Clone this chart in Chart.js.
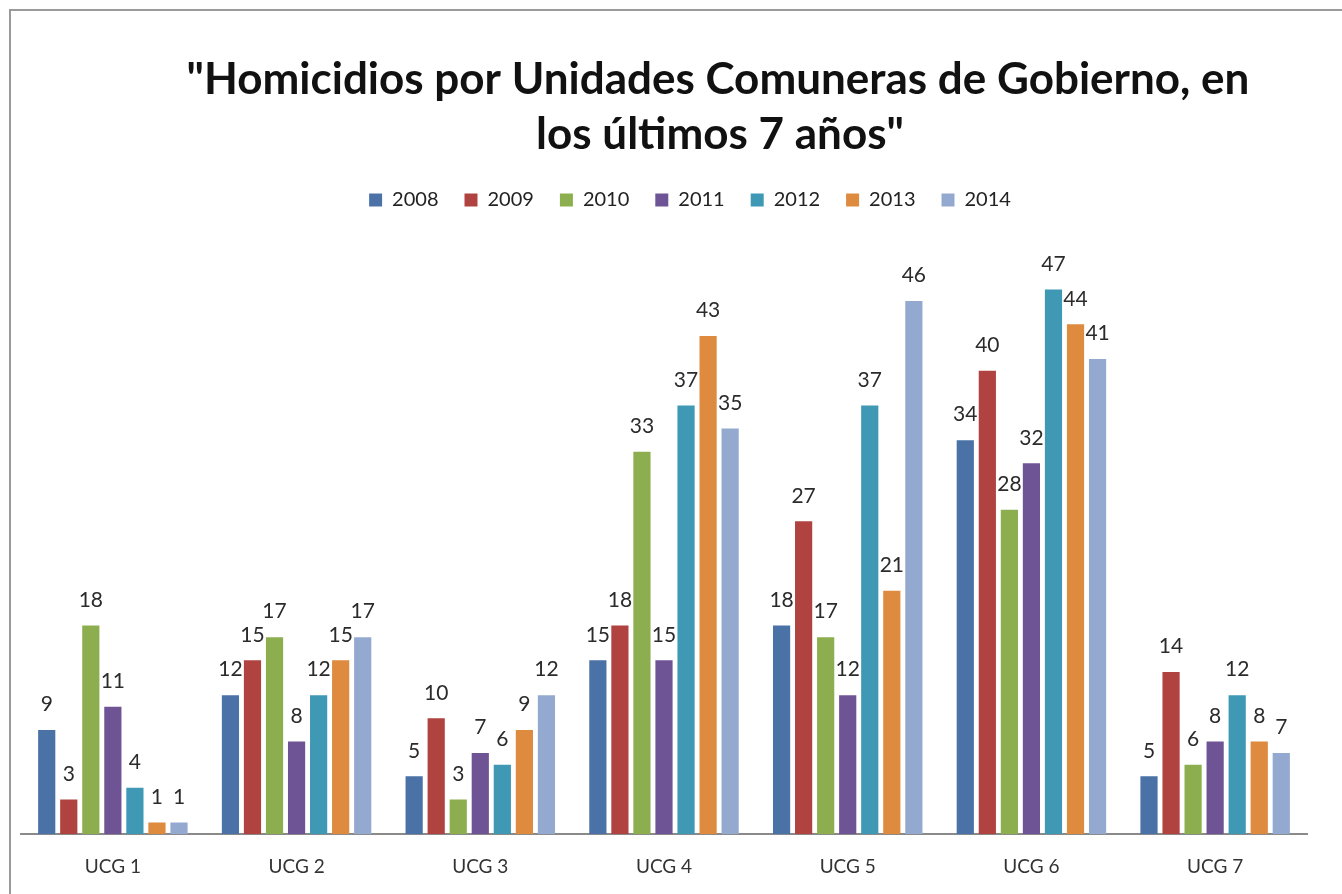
<!DOCTYPE html>
<html>
<head>
<meta charset="utf-8">
<script src="https://cdn.jsdelivr.net/npm/chart.js@4"></script>
<style>
  html, body { margin: 0; padding: 0; background: #fff; overflow: hidden; }
  #wrap { position: relative; width: 1342px; height: 894px; overflow: hidden; }
  #frame { position: absolute; left: 9px; top: 9px; width: 1400px; height: 950px; border-left: 2px solid #9a9a9a; border-top: 2px solid #9a9a9a; }
  canvas { position: absolute; left: 0; top: 0; }
</style>
</head>
<body>
<div id="wrap">
  <div id="frame"></div>
  <canvas id="chart" width="1342" height="894"></canvas>
</div>
<script>
// categories and series
var categories = ['UCG 1', 'UCG 2', 'UCG 3', 'UCG 4', 'UCG 5', 'UCG 6', 'UCG 7'];
var years = ['2008', '2009', '2010', '2011', '2012', '2013', '2014'];
var s2008 = [9, 12, 5, 15, 18, 34, 5];
var s2009 = [3, 15, 10, 18, 27, 40, 14];
var s2010 = [18, 17, 3, 33, 17, 28, 6];
var s2011 = [11, 8, 7, 15, 12, 32, 8];
var s2012 = [4, 12, 6, 37, 37, 47, 12];
var s2013 = [1, 15, 9, 43, 21, 44, 8];
var s2014 = [1, 17, 12, 35, 46, 41, 7];
var titleLines = ['"Homicidios por Unidades Comuneras de Gobierno, en', 'los últimos 7 años"'];

var colors = ['#4a72a6', '#b0433f', '#8dae4f', '#6e5495', '#3f98b4', '#de8a3f', '#93a9cf'];
var series = [s2008, s2009, s2010, s2011, s2012, s2013, s2014];

var datasets = [];
for (var i = 0; i < years.length; i++) {
    datasets.push({
        label: years[i],
        data: series[i],
        backgroundColor: colors[i],
        categoryPercentage: 0.84,
        barPercentage: 0.78
    });
}

// title drawn by hand so it can sit a bit right of centre like the original
var chartTitle = {
    id: 'chartTitle',
    afterLayout: function(chart) {
        // nudge the legend to the right as well
        chart.legend.left += 26;
        chart.legend.right += 26;
    },
    afterDraw: function(chart) {
        var ctx = chart.ctx;
        ctx.save();
        ctx.font = 'bold 44px Lato';
        ctx.fillStyle = '#111';
        ctx.textAlign = 'center';
        ctx.textBaseline = 'middle';
        ctx.fillText(titleLines[0], 718, 80);
        ctx.fillText(titleLines[1], 720, 135);
        ctx.restore();
    }
};

// value labels above each bar
var valueLabels = {
    id: 'valueLabels',
    afterDatasetsDraw: function(chart) {
        var ctx = chart.ctx;
        ctx.save();
        ctx.font = '21px Lato';
        ctx.fillStyle = '#2b2b2b';
        ctx.textAlign = 'center';
        ctx.textBaseline = 'bottom';
        chart.data.datasets.forEach(function(ds, i) {
            var meta = chart.getDatasetMeta(i);
            meta.data.forEach(function(bar, j) {
                ctx.fillText(ds.data[j], bar.x, bar.y - 15);
            });
        });
        ctx.restore();
    }
};

new Chart(document.getElementById('chart'), {
    type: 'bar',
    plugins: [valueLabels, chartTitle],
    data: {
        labels: categories,
        datasets: datasets
    },
    options: {
        responsive: false,
        animation: false,
        layout: {
            padding: { left: 21, right: 35, top: 164, bottom: 3 }
        },
        plugins: {
            title: { display: false },
            legend: {
                position: 'top',
                labels: {
                    boxWidth: 13,
                    boxHeight: 13,
                    padding: 26,
                    color: '#222',
                    font: { family: 'Lato', size: 20 }
                }
            },
            tooltip: { enabled: false }
        },
        scales: {
            x: {
                grid: { display: false },
                border: { display: true, color: '#8a8a8a', width: 2 },
                ticks: {
                    color: '#333',
                    padding: 13,
                    font: { family: 'Lato', size: 19 }
                }
            },
            y: {
                display: false,
                min: 0,
                max: 53
            }
        }
    }
});
</script>
</body>
</html>
